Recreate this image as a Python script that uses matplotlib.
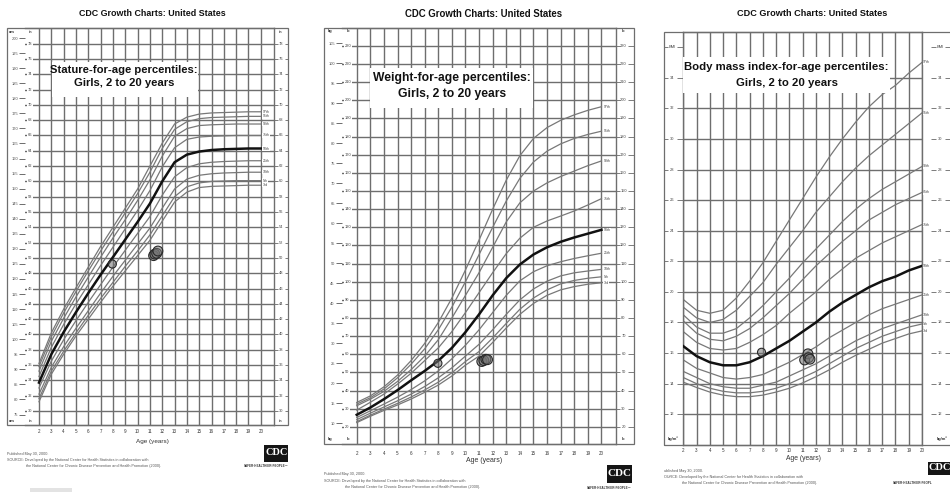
import matplotlib
matplotlib.use('Agg')
import matplotlib.pyplot as plt
from matplotlib import font_manager
from matplotlib.patches import Rectangle
from matplotlib.collections import LineCollection
from matplotlib.transforms import blended_transform_factory

W, H = 950, 492

installed = {f.name for f in font_manager.fontManager.ttflist}
if 'Liberation Sans Narrow' in installed:
    FONT, K = 'Liberation Sans Narrow', 1.0
else:
    FONT, K = 'Liberation Sans', 0.82
plt.rcParams['font.family'] = [FONT, 'DejaVu Sans']

# ---- data (ages 2..20) ----
ages = list(range(2, 21))
pct_names = ['3rd', '5th', '10th', '25th', '50th', '75th', '90th', '95th', '97th']
bmi_pct_names = ['3rd', '5th', '10th', '25th', '50th', '75th', '85th', '90th', '95th', '97th']

# stature, inches
st_p3 = [31.2, 34.8, 37.4, 39.8, 42.0, 44.2, 46.3, 48.3, 50.3, 52.3, 54.8, 57.3, 58.6, 59.2, 59.35, 59.4, 59.45, 59.5, 59.5]
st_p5 = [31.6, 35.2, 37.8, 40.2, 42.5, 44.7, 46.8, 48.9, 50.9, 53.0, 55.5, 58.0, 59.3, 59.8, 60.0, 60.05, 60.1, 60.1, 60.1]
st_p10 = [32.2, 35.7, 38.4, 40.8, 43.1, 45.4, 47.6, 49.7, 51.8, 53.9, 56.5, 59.0, 60.3, 60.8, 61.0, 61.1, 61.15, 61.2, 61.2]
st_p25 = [33.0, 36.5, 39.3, 41.8, 44.2, 46.5, 48.8, 51.0, 53.2, 55.4, 58.2, 60.6, 61.8, 62.3, 62.5, 62.6, 62.65, 62.7, 62.7]
st_p50 = [33.7, 37.4, 40.3, 42.9, 45.4, 47.8, 50.1, 52.4, 54.7, 57.1, 60.0, 62.5, 63.5, 63.9, 64.1, 64.2, 64.25, 64.3, 64.3]
st_p75 = [34.5, 38.3, 41.3, 44.0, 46.5, 49.0, 51.4, 53.8, 56.2, 58.8, 61.9, 64.4, 65.5, 65.8, 65.9, 65.95, 66.0, 66.0, 66.0]
st_p90 = [35.2, 39.1, 42.1, 44.9, 47.5, 50.1, 52.6, 55.0, 57.5, 60.2, 63.3, 65.9, 66.9, 67.3, 67.4, 67.45, 67.5, 67.5, 67.5]
st_p95 = [35.8, 39.7, 42.8, 45.6, 48.3, 50.9, 53.4, 55.9, 58.4, 61.2, 64.3, 66.8, 67.8, 68.2, 68.35, 68.4, 68.45, 68.5, 68.5]
st_p97 = [36.2, 40.2, 43.3, 46.1, 48.8, 51.5, 54.0, 56.5, 59.0, 62.0, 65.0, 67.5, 68.4, 68.8, 68.95, 69.0, 69.05, 69.1, 69.1]

# weight, pounds
wt_p3 = [22.3, 25.8, 29.0, 32.0, 35.3, 39.0, 43.0, 48.0, 54.0, 59.0, 66.5, 74.5, 82.0, 88.0, 92.5, 95.5, 97.3, 98.6, 99.4]
wt_p5 = [22.8, 26.4, 29.7, 32.9, 36.4, 40.3, 44.6, 49.8, 56.0, 61.5, 69.0, 77.0, 84.8, 91.0, 95.5, 98.8, 100.7, 101.9, 102.7]
wt_p10 = [23.9, 27.5, 30.9, 34.3, 38.0, 42.2, 47.0, 52.5, 59.0, 65.5, 73.5, 82.0, 90.0, 96.0, 100.3, 103.2, 104.9, 105.9, 106.8]
wt_p25 = [25.1, 28.8, 32.5, 36.3, 40.5, 45.3, 50.8, 57.5, 65.0, 73.5, 83.0, 92.5, 100.5, 105.5, 108.8, 111.0, 112.8, 114.3, 115.7]
wt_p50 = [26.6, 30.6, 35.2, 40.2, 45.6, 50.8, 56.4, 63.5, 72.2, 82.0, 92.5, 102.0, 109.5, 115.0, 119.0, 122.0, 124.4, 126.5, 128.6]
wt_p75 = [29.2, 33.5, 38.0, 43.5, 49.5, 56.5, 63.5, 72.5, 83.0, 94.0, 105.0, 115.5, 124.0, 130.0, 133.5, 136.2, 139.0, 142.3, 145.8]
wt_p90 = [31.6, 35.2, 39.5, 45.0, 51.5, 59.0, 68.0, 80.0, 92.5, 105.0, 119.0, 133.0, 143.5, 150.0, 154.5, 158.0, 161.0, 164.0, 166.6]
wt_p95 = [32.5, 36.0, 40.8, 47.0, 54.5, 63.0, 73.5, 86.0, 100.0, 115.0, 130.0, 144.5, 157.0, 166.0, 172.0, 176.0, 179.0, 181.2, 183.0]
wt_p97 = [33.4, 37.0, 42.0, 48.5, 56.5, 66.0, 77.5, 91.0, 106.5, 123.0, 140.0, 156.0, 169.5, 179.0, 185.0, 189.0, 192.0, 194.5, 196.5]

# body mass index, kg/m2
bmi_p3 = [14.1, 13.75, 13.45, 13.25, 13.15, 13.15, 13.25, 13.45, 13.7, 14.05, 14.45, 14.9, 15.4, 15.85, 16.25, 16.65, 16.95, 17.25, 17.45]
bmi_p5 = [14.4, 14.0, 13.7, 13.5, 13.4, 13.4, 13.5, 13.7, 14.0, 14.4, 14.8, 15.3, 15.8, 16.3, 16.7, 17.1, 17.4, 17.7, 17.9]
bmi_p10 = [14.8, 14.4, 14.0, 13.8, 13.7, 13.7, 13.9, 14.1, 14.5, 14.9, 15.3, 15.8, 16.3, 16.8, 17.2, 17.6, 17.9, 18.2, 18.5]
bmi_p25 = [15.55, 15.0, 14.7, 14.4, 14.3, 14.4, 14.6, 15.0, 15.4, 15.9, 16.4, 17.0, 17.5, 18.0, 18.5, 18.9, 19.2, 19.5, 19.8]
bmi_p50 = [16.45, 15.8, 15.4, 15.2, 15.2, 15.4, 15.8, 16.3, 16.8, 17.4, 18.0, 18.7, 19.3, 19.8, 20.3, 20.7, 21.0, 21.4, 21.7]
bmi_p75 = [17.4, 16.7, 16.3, 16.2, 16.3, 16.7, 17.2, 17.8, 18.6, 19.3, 20.0, 20.8, 21.5, 22.2, 22.7, 23.2, 23.6, 24.0, 24.4]
bmi_p85 = [18.1, 17.3, 16.9, 16.8, 17.1, 17.6, 18.3, 19.1, 19.9, 20.8, 21.7, 22.5, 23.3, 24.0, 24.7, 25.2, 25.7, 26.1, 26.5]
bmi_p90 = [18.5, 17.7, 17.3, 17.3, 17.6, 18.3, 19.1, 20.0, 20.9, 21.9, 22.8, 23.7, 24.6, 25.4, 26.1, 26.7, 27.2, 27.7, 28.2]
bmi_p95 = [19.0, 18.3, 18.0, 18.2, 18.8, 19.7, 20.6, 21.8, 22.9, 24.0, 25.2, 26.2, 27.2, 28.1, 28.9, 29.6, 30.3, 31.0, 31.7]
bmi_p97 = [19.5, 18.8, 18.6, 18.8, 19.6, 20.7, 21.9, 23.3, 24.7, 26.1, 27.5, 28.8, 30.0, 31.1, 32.1, 32.9, 33.5, 34.3, 35.0]

# plotted visits
st_visit_age = [7.95, 11.3, 11.4, 11.55, 11.65]
st_visit_in = [49.2, 50.3, 50.5, 50.6, 50.9]
wt_visit_age = [7.97, 11.2, 11.35, 11.5, 11.62]
wt_visit_lb = [55.0, 56.0, 56.5, 57.2, 57.0]
bmi_visit_age = [7.9, 11.15, 11.4, 11.45, 11.55]
bmi_visit_val = [16.05, 15.55, 15.95, 15.7, 15.6]

stature_curves = [st_p3, st_p5, st_p10, st_p25, st_p50, st_p75, st_p90, st_p95, st_p97]
weight_curves = [wt_p3, wt_p5, wt_p10, wt_p25, wt_p50, wt_p75, wt_p90, wt_p95, wt_p97]
bmi_curves = [bmi_p3, bmi_p5, bmi_p10, bmi_p25, bmi_p50, bmi_p75, bmi_p85, bmi_p90, bmi_p95, bmi_p97]

GRID = '#6e6e6e'
INK = '#333333'

fig = plt.figure(figsize=(9.5, 4.92), dpi=100)
fig.patch.set_facecolor('white')


def fx(x):
    return x / W


def fy(y):
    return 1 - y / H


def px_axes(x0, y0, x1, y1):
    return fig.add_axes([fx(x0), fy(y1), (x1 - x0) / W, (y1 - y0) / H])


def ftext(x, y, s, size, **kw):
    kw.setdefault('ha', 'left')
    kw.setdefault('va', 'center')
    kw.setdefault('color', INK)
    return fig.text(fx(x), fy(y), s, fontsize=size * K, **kw)


def rect(x0, y0, x1, y1, **kw):
    fig.patches.append(Rectangle((fx(x0), fy(y1)), (x1 - x0) / W, (y1 - y0) / H,
                                 transform=fig.transFigure, **kw))


def grid_axes(box, xlim, ylim, hvals, xpad, left_spine=True):
    ax = px_axes(*box)
    ax.set_facecolor('none')
    ax.set_xticks(ages)
    ax.set_yticks(hvals)
    ax.grid(True, color=GRID, lw=1.0)
    ax.tick_params(axis='y', left=False, right=False, labelleft=False)
    ax.tick_params(axis='x', length=0, pad=xpad, labelsize=4 * K, labelcolor=INK)
    for s in ax.spines.values():
        s.set_color(GRID)
        s.set_linewidth(1.0)
    ax.spines['left'].set_visible(left_spine)
    ax.set_xlim(*xlim)
    ax.set_ylim(*ylim)
    return ax


def col_labels(ax, xc, vals, size=3.5, ha='center', bg=False, labels=None):
    tr = blended_transform_factory(fig.transFigure, ax.transData)
    for v, lab in zip(vals, labels or vals):
        ax.text(fx(xc), v, str(lab), transform=tr, ha=ha, va='center', fontsize=size * K,
                color='#444', clip_on=False,
                bbox=dict(fc='white', ec='none', pad=0.4) if bg else None)


def dashes(ax, x0, x1, vals):
    tr = blended_transform_factory(fig.transFigure, ax.transData)
    segs = [[(fx(x0), v), (fx(x1), v)] for v in vals]
    lc = LineCollection(segs, transform=tr, colors='#666', linewidths=0.6)
    ax.add_collection(lc, autolim=False)
    lc.set_clip_on(False)


def draw_curves(ax, curves, names, label_x):
    for vals, name in zip(curves, names):
        if name == '50th':
            ax.plot(ages, vals, color='#111', lw=1.8, zorder=3)
        else:
            ax.plot(ages, vals, color='#787878', lw=0.9, zorder=2)
        ax.text(label_x, vals[-1], name, fontsize=3.1 * K, ha='left', va='center',
                color='#444', clip_on=False, zorder=5,
                bbox=dict(fc='white', ec='none', pad=0.15))


def draw_visits(ax, xs, ys):
    sizes = [34] + [50] * (len(xs) - 1)
    ax.scatter(xs, ys, s=sizes, facecolor=(0.45, 0.45, 0.45, 0.55),
               edgecolor='#2a2a2a', linewidth=0.8, zorder=6)


def header(cx, y, size):
    ftext(cx, y, 'CDC Growth Charts: United States', size, ha='center', weight='bold', color='#111')


def title_box(box, cx, y1, y2, line1, line2, size):
    rect(*box, fc='white', ec='none', zorder=1)
    ftext(cx, y1, line1, size, ha='center', weight='bold', color='#111', zorder=3)
    ftext(cx, y2, line2, size, ha='center', weight='bold', color='#111', zorder=3)


def footer(x, y, x2, dy, prefix_pub, prefix_src):
    ftext(x, y, prefix_pub, 3.3, color='#555')
    ftext(x, y + dy, prefix_src + ' Developed by the National Center for Health Statistics in collaboration with',
          3.3, color='#555')
    ftext(x2, y + 2 * dy, 'the National Center for Chronic Disease Prevention and Health Promotion (2000).',
          3.3, color='#555')


def cdc_logo(x0, y0, x1, y1, size):
    rect(x0, y0, x1, y1, fc='#151515', ec='none', zorder=2)
    fig.text(fx((x0 + x1) / 2), fy((y0 + y1) / 2 - 0.5), 'CDC', color='white',
             family='Liberation Serif', weight='bold', fontsize=size, ha='center', va='center', zorder=3)


# ================= stature-for-age =================
in_vals = list(range(30, 79, 2))
ax1 = grid_axes((25, 28, 274, 425), (0.864, 21.07), (28.16, 80.05), in_vals, 3.0, left_spine=False)
rect(7, 28, 288, 425, fill=False, ec=GRID, lw=0.9, zorder=0.5)
col_labels(ax1, 28, in_vals, ha='left', bg=True)
dashes(ax1, 25, 27.5, in_vals)
col_labels(ax1, 281, in_vals)
dashes(ax1, 274, 277.5, in_vals)
dashes(ax1, 284.5, 288, in_vals)
cm_ax = ax1.secondary_yaxis(0, functions=(lambda v: v * 2.54, lambda v: v / 2.54))
cm_ax.set_yticks(list(range(75, 201, 5)))
cm_ax.tick_params(length=4, width=0.6, pad=1, labelsize=3.5 * K, colors='#555')
cm_ax.spines['left'].set_visible(False)
for yy in (32.3, 421.5):
    ftext(12, yy, 'cm', 3.5, ha='center', weight='bold')
    ftext(31, yy, 'in', 3.5, ha='center', weight='bold')
    ftext(281, yy, 'in', 3.5, ha='center', weight='bold')
draw_curves(ax1, stature_curves, pct_names, 20.15)
draw_visits(ax1, st_visit_age, st_visit_in)
header(152.5, 13.3, 7.8)
title_box((51.7, 61.7, 198.3, 96.7), 124, 70, 83.3,
          'Stature-for-age percentiles:', 'Girls, 2 to 20 years', 9.9)
ftext(152, 441.7, 'Age (years)', 5.6, ha='center')
footer(7, 454.3, 26, 6.0, 'Published May 30, 2000.', 'SOURCE:')
cdc_logo(264.3, 445, 288.3, 461.7, 7.5)
ftext(289, 465.7, 'SAFER\u00b7HEALTHIER\u00b7PEOPLE\u2122', 2.7, ha='right', weight='bold')
rect(30, 488.3, 72, 492, fc='#e3e3e3', ec='none', zorder=1)

# ================= weight-for-age =================
lb_vals = list(range(20, 231, 10))
ax2 = grid_axes((341.7, 28, 616, 444), (0.895, 21.07), (10.5, 239.9), lb_vals, 5.0, left_spine=False)
rect(324, 28, 634, 444, fill=False, ec=GRID, lw=0.9, zorder=0.5)
col_labels(ax2, 345, lb_vals, ha='left', bg=True)
dashes(ax2, 341.7, 344, lb_vals)
col_labels(ax2, 623.5, lb_vals)
dashes(ax2, 616, 619.5, lb_vals)
dashes(ax2, 627.5, 634, lb_vals)
kg_ax = ax2.secondary_yaxis(0, functions=(lambda v: v / 2.20462, lambda v: v * 2.20462))
kg_ax.set_yticks(list(range(10, 106, 5)))
kg_ax.tick_params(length=4, width=0.6, pad=1, labelsize=3.5 * K, colors='#555')
kg_ax.spines['left'].set_visible(False)
for yy in (30.7, 439.3):
    ftext(330, yy, 'kg', 3.5, ha='center', weight='bold')
    ftext(348.5, yy, 'lb', 3.5, ha='center', weight='bold')
    ftext(623.5, yy, 'lb', 3.5, ha='center', weight='bold')
draw_curves(ax2, weight_curves, pct_names, 20.15)
draw_visits(ax2, wt_visit_age, wt_visit_lb)
header(484, 14, 8.5)
title_box((370, 68.3, 533.3, 108.3), 451.7, 78.3, 94.3,
          'Weight-for-age percentiles:', 'Girls, 2 to 20 years', 10.6)
ftext(484, 460.7, 'Age (years)', 6.2, ha='center')
footer(324, 474.3, 345, 6.5, 'Published May 30, 2000.', 'SOURCE:')
cdc_logo(606.7, 465, 631.7, 483.3, 8)
ftext(632, 487.8, 'SAFER\u00b7HEALTHIER\u00b7PEOPLE\u2122', 2.7, ha='right', weight='bold')

# ================= BMI-for-age =================
bmi_vals = list(range(12, 35, 2))
ax3 = grid_axes((683.3, 32.3, 922, 445), (2, 20), (9.99, 36.97), bmi_vals, 2.5)
rect(664, 32.3, 960, 445, fill=False, ec=GRID, lw=0.9, zorder=0.5)
col_labels(ax3, 672, bmi_vals + [36], labels=bmi_vals + ['BMI'])
dashes(ax3, 664, 667.5, bmi_vals + [36])
dashes(ax3, 676.5, 683.3, bmi_vals + [36])
col_labels(ax3, 940, bmi_vals + [36], labels=bmi_vals + ['BMI'])
dashes(ax3, 931, 935.5, bmi_vals + [36])
dashes(ax3, 944.5, 951, bmi_vals + [36])
ftext(673, 439, 'kg/m\u00b2', 3.5, ha='center', weight='bold')
ftext(942, 439, 'kg/m\u00b2', 3.5, ha='center', weight='bold')
draw_curves(ax3, bmi_curves, bmi_pct_names, 20.08)
draw_visits(ax3, bmi_visit_age, bmi_visit_val)
header(812.3, 13.3, 8.0)
title_box((683.3, 56.7, 890, 93.3), 786.7, 66.7, 82.7,
          'Body mass index-for-age percentiles:', 'Girls, 2 to 20 years', 10.0)
ftext(803.3, 459, 'Age (years)', 5.9, ha='center')
footer(664, 470.7, 682, 6.3, 'ublished May 30, 2000.', 'OURCE:')
cdc_logo(928.3, 461.7, 952, 475, 7.5)
ftext(893, 482.7, 'SAFER\u00b7HEALTHIER\u00b7PEOPL', 2.7, ha='left', weight='bold')

fig.savefig('out.png', dpi=100, facecolor='white')
